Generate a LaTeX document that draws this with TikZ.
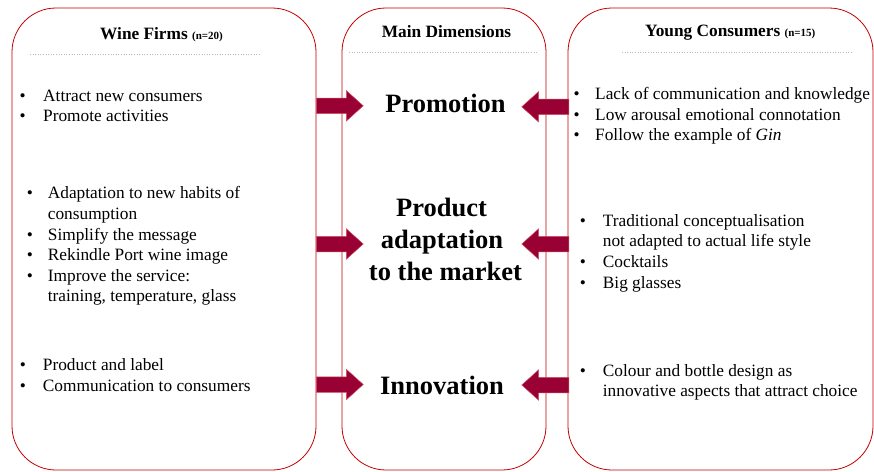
\documentclass[tikz,border=0pt]{standalone}
\usepackage{fontspec}
\setmainfont{Liberation Serif}
\usetikzlibrary{shapes.arrows}
\definecolor{boxred}{HTML}{C00000}
\definecolor{wine}{HTML}{990033}
\definecolor{arrowedge}{HTML}{D05060}
\begin{document}
\begin{tikzpicture}[x=1pt,y=-1pt,
 panel/.style={draw=boxred, line width=0.8pt, rounded corners=44pt, inner sep=0pt},
 sepline/.style={draw=gray!55, dotted, line width=0.6pt},
 head/.style={font=\fontsize{17.3}{20}\selectfont\bfseries, inner sep=0pt},
 txt/.style={font=\fontsize{17.3}{20}\selectfont, inner sep=0pt, anchor=base west},
 bul/.style={font=\fontsize{17.3}{20}\selectfont, inner sep=0pt, anchor=base},
 dim/.style={font=\fontsize{26.5}{31.7}\selectfont\bfseries, inner sep=0pt, anchor=base},
 blk/.style={single arrow, fill=wine, draw=arrowedge, line width=0.5pt,
   minimum height=47pt, inner xsep=0pt, inner ysep=7.5pt,
   single arrow head extend=7.5pt, single arrow tip angle=84,
   single arrow head indent=0pt, anchor=tail}]
\useasboundingbox (0,0) rectangle (874,471);

% panels
\node[panel, minimum width=304pt, minimum height=462pt] (wf) at (164,239) {};
\node[panel, minimum width=204pt, minimum height=462pt] (md) at (444,239) {};
\node[panel, minimum width=305pt, minimum height=462pt] (yc) at (720.5,239) {};

% headers
\node[head, anchor=base west] (hwf) at (100,39) {Wine Firms {\fontsize{11}{12}\selectfont (n=20)}};
\node[head, anchor=base] (hmd) at (446.5,37.3) {Main Dimensions};
\node[head, anchor=base west] (hyc) at (645,36.7) {Young Consumers {\fontsize{11}{12}\selectfont (n=15)}};
\draw[sepline] (30,54.3) -- (259,54.3);
\draw[sepline] (349,52.7) -- (537,52.7);
\draw[sepline] (622,52.7) -- (851,52.7);

% main dimensions
\node[dim] (promo) at (445.5,112.7) {Promotion};
\node[dim] (prod1) at (441.5,216.7) {Product};
\node[dim] (prod2) at (442,248) {adaptation};
\node[dim] (prod3) at (445.5,280) {to the market};
\node[dim] (innov) at (442,394) {Innovation};

% arrows
\node[blk] (a1) at (316,105.8) {};
\node[blk, shape border rotate=180] (a2) at (569,106.8) {};
\node[blk] (a3) at (316,244) {};
\node[blk, shape border rotate=180] (a4) at (569,244) {};
\node[blk] (a5) at (316,384.5) {};
\node[blk, shape border rotate=180] (a6) at (569,385) {};

% wine firms lists
\node[bul] (b1) at (22.7,101) {•};
\node[txt] (t1) at (43,101) {Attract new consumers};
\node[bul] (b2) at (22.7,121) {•};
\node[txt] (t2) at (43,121) {Promote activities};

\node[bul] (b3) at (30,198.3) {•};
\node[txt] (t3) at (47.7,198.3) {Adaptation to new habits of};
\node[txt] (t3b) at (47.7,219) {consumption};
\node[bul] (b4) at (30,240) {•};
\node[txt] (t4) at (47.7,240) {Simplify the message};
\node[bul] (b5) at (30,260.7) {•};
\node[txt] (t5) at (47.7,260.7) {Rekindle Port wine image};
\node[bul] (b6) at (30,281.7) {•};
\node[txt] (t6) at (47.7,281.7) {Improve the service:};
\node[txt] (t6b) at (47.7,301.7) {training, temperature, glass};

\node[bul] (b7) at (23,370.7) {•};
\node[txt] (t7) at (42.7,370.7) {Product and label};
\node[bul] (b8) at (23,391.7) {•};
\node[txt] (t8) at (42.7,391.7) {Communication to consumers};

% young consumers lists
\node[bul] (c1) at (576.7,99.3) {•};
\node[txt] (u1) at (595,99.3) {Lack of communication and knowledge};
\node[bul] (c2) at (576.7,120) {•};
\node[txt] (u2) at (595,120) {Low arousal emotional connotation};
\node[bul] (c3) at (576.7,140) {•};
\node[txt] (u3) at (595,140) {Follow the example of \textit{Gin}};

\node[bul] (c4) at (583,226.7) {•};
\node[txt] (u4) at (602.7,226.7) {Traditional conceptualisation};
\node[txt] (u4b) at (602.7,246.7) {not adapted to actual life style};
\node[bul] (c5) at (583,267.3) {•};
\node[txt] (u5) at (602.7,267.3) {Cocktails};
\node[bul] (c6) at (583,288.3) {•};
\node[txt] (u6) at (602.7,288.3) {Big glasses};

\node[bul] (c7) at (583,376.7) {•};
\node[txt] (u7) at (602.7,376.7) {Colour and bottle design as};
\node[txt] (u7b) at (602.7,396.7) {innovative aspects that attract choice};
\end{tikzpicture}
\end{document}
